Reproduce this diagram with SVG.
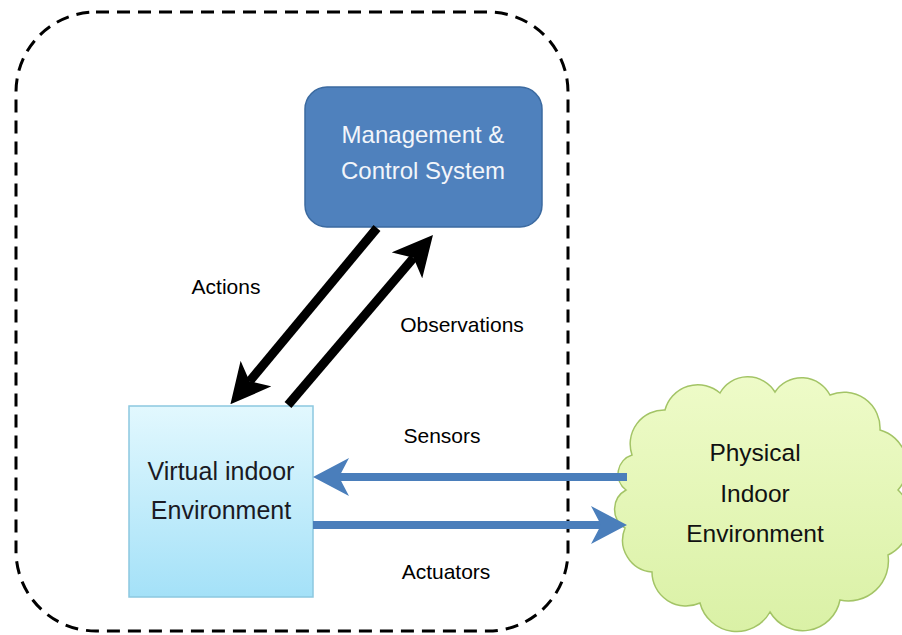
<svg xmlns="http://www.w3.org/2000/svg" width="902" height="635" viewBox="0 0 902 635">
<style>
text{font-family:"Liberation Sans",Arial,sans-serif;text-anchor:middle}
.lbl{font-size:21px;fill:#000}
.blk{stroke:#000;stroke-width:9;fill:none}
.blu{stroke:#4a7ebb;stroke-width:8;fill:none}
</style>
<defs>
<linearGradient id="gv" x1="0" y1="0" x2="0" y2="1">
<stop offset="0" stop-color="#e2f8fe"/><stop offset="1" stop-color="#a4e1f8"/>
</linearGradient>
<linearGradient id="gc" x1="0" y1="0" x2="0" y2="1">
<stop offset="0" stop-color="#eefbc8"/><stop offset="1" stop-color="#daf1a6"/>
</linearGradient>
<marker id="ak" markerUnits="userSpaceOnUse" viewBox="0 -20 40 40" refX="10" refY="0" markerWidth="40" markerHeight="40" orient="auto">
<path d="M0,-20 L40,0 L0,20 L10,0 Z" fill="#000"/>
</marker>
<marker id="ab" markerUnits="userSpaceOnUse" viewBox="0 -20 36 40" refX="10" refY="0" markerWidth="36" markerHeight="40" orient="auto">
<path d="M0,-19 L36,0 L0,19 L10,0 Z" fill="#4a7ebb"/>
</marker>
</defs>
<rect x="0" y="0" width="902" height="635" fill="#fff"/>
<g id="container">
<rect x="16" y="12" width="552" height="619" rx="80" ry="80" fill="none" stroke="#000" stroke-width="3" stroke-dasharray="13 8"/>
</g>
<g id="mcs">
<rect x="305" y="87" width="237" height="140" rx="22" ry="22" fill="#4f81bd" stroke="#3b6aa0" stroke-width="1.5"/>
<text x="423" y="143" font-size="24" fill="#f2f5fa">Management &amp;</text>
<text x="423" y="179" font-size="24" fill="#f2f5fa">Control System</text>
</g>
<g id="virtual">
<rect x="129" y="406" width="184" height="191" fill="url(#gv)" stroke="#8cc8e0" stroke-width="1.5"/>
<text x="221" y="480" font-size="25" fill="#1a1a24">Virtual indoor</text>
<text x="221" y="519" font-size="25" fill="#1a1a24">Environment</text>
</g>
<g id="physical">
<path d="M632,455 A34,34 0 0 1 665,410 A34,34 0 0 1 720,393 A32,32 0 0 1 775,392 A32,32 0 0 1 830,395 A36,36 0 0 1 880,430 A37,37 0 0 1 898,490 A40,40 0 0 1 888,555 A40,40 0 0 1 840,600 A38,38 0 0 1 770,612 A38,38 0 0 1 700,603 A34,34 0 0 1 652,572 A32,32 0 0 1 625,528 A22,22 0 0 1 626,490 A20,20 0 0 1 632,455 Z" fill="url(#gc)" stroke="#a3c466" stroke-width="1.5"/>
<text x="755" y="461" font-size="24.5" fill="#111">Physical</text>
<text x="755" y="502" font-size="24.5" fill="#111">Indoor</text>
<text x="755" y="542" font-size="24.5" fill="#111">Environment</text>
</g>
<g id="connectors">
<line class="blk" x1="377" y1="228" x2="249.6" y2="381.3" marker-end="url(#ak)"/>
<line class="blk" x1="288" y1="405" x2="413.5" y2="257.8" marker-end="url(#ak)"/>
<line class="blu" x1="627" y1="477" x2="339" y2="477" marker-end="url(#ab)"/>
<line class="blu" x1="313" y1="525" x2="601" y2="525" marker-end="url(#ab)"/>
</g>
<g id="labels">
<text class="lbl" x="226" y="294">Actions</text>
<text class="lbl" x="462" y="332">Observations</text>
<text class="lbl" x="442" y="443">Sensors</text>
<text class="lbl" x="446" y="579">Actuators</text>
</g>
</svg>
